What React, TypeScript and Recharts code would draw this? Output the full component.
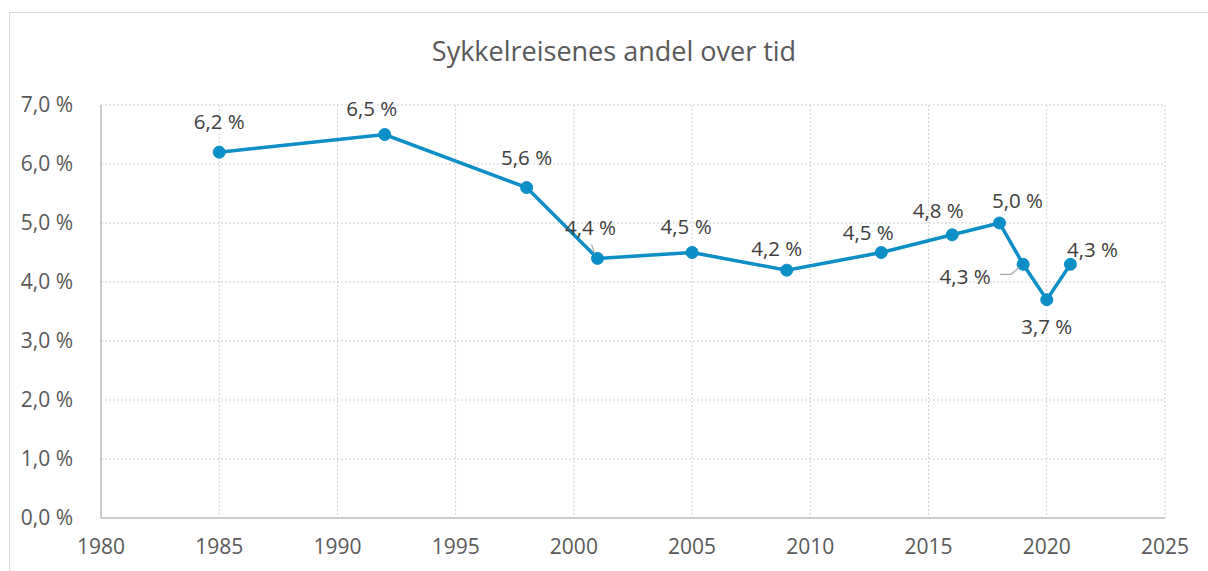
import { LineChart, Line, XAxis, YAxis, CartesianGrid } from 'recharts';

const years = [1985, 1992, 1998, 2001, 2005, 2009, 2013, 2016, 2018, 2019, 2020, 2021];
const shares = [6.2, 6.5, 5.6, 4.4, 4.5, 4.2, 4.5, 4.8, 5.0, 4.3, 3.7, 4.3];
const xTicks = [1980, 1985, 1990, 1995, 2000, 2005, 2010, 2015, 2020, 2025];
const yTicks = [0, 1, 2, 3, 4, 5, 6, 7];

const data = years.map((year, i) => ({ year, share: shares[i] }));

// label nudges (px from the point), as placed in the original
const labelNudge: [number, number][] = [
  [0, -31], [-13, -27], [0, -31], [-7, -31], [-6, -27], [-10, -22],
  [-13, -21], [-14, -25], [18, -23], [-58, 12], [0, 26], [22, -15],
];
const leaderTop = 3;
const leaderLeft = 9;

const font = '"Open Sans", sans-serif';
const fmt = (v: number) => v.toFixed(1).replace('.', ',') + ' %';

function PointLabel(props: any) {
  const { x, y, value, index } = props;
  const [dx, dy] = labelNudge[index];
  return (
    <g>
      {index === leaderTop && (
        <line x1={x - 6} y1={y - 14} x2={x - 3} y2={y - 5} stroke="#a6a6a6" strokeWidth={1.2} />
      )}
      {index === leaderLeft && (
        <polyline
          points={`${x - 23},${y + 10} ${x - 12},${y + 10} ${x - 4},${y + 3}`}
          fill="none"
          stroke="#a6a6a6"
          strokeWidth={1.2}
        />
      )}
      <text
        x={x + dx}
        y={y + dy}
        textAnchor="middle"
        dominantBaseline="central"
        fill="#404040"
        fontSize={20.5}
        fontFamily={font}
      >
        {fmt(value)}
      </text>
    </g>
  );
}

export default function App() {
  return (
    <div style={{ position: 'absolute', left: 0, top: 0, width: 1208, height: 571, background: '#fff', overflow: 'hidden' }}>
      <div style={{ position: 'absolute', left: 9, top: 12, width: 1220, height: 600, border: '1px solid #d9d9d9' }} />
      <div
        style={{
          position: 'absolute',
          left: 0,
          top: 32,
          width: 1228,
          textAlign: 'center',
          fontFamily: font,
          fontSize: 27,
          color: '#595959',
        }}
      >
        Sykkelreisenes andel over tid
      </div>
      <div style={{ position: 'absolute', left: 0, top: 0 }}>
        <LineChart width={1208} height={571} data={data} margin={{ top: 105, right: 43, bottom: 13, left: 11 }}>
          <CartesianGrid stroke="#d0d0d0" strokeDasharray="2 2" strokeWidth={1} />
          <XAxis
            dataKey="year"
            type="number"
            domain={[1980, 2025]}
            ticks={xTicks}
            interval={0}
            height={40}
            tickLine={false}
            tickMargin={15}
            axisLine={{ stroke: '#bfbfbf', strokeWidth: 1.5 }}
            tick={{ fill: '#595959', fontSize: 21, fontFamily: font }}
          />
          <YAxis
            domain={[0, 7]}
            ticks={yTicks}
            interval={0}
            width={90}
            tickLine={false}
            tickMargin={22}
            tickFormatter={fmt}
            axisLine={{ stroke: '#bfbfbf', strokeWidth: 1.5 }}
            tick={{ fill: '#595959', fontSize: 21, fontFamily: font }}
          />
          <Line
            dataKey="share"
            stroke="#0c8ec6"
            strokeWidth={3.5}
            dot={{ r: 6, fill: '#0c8ec6', stroke: '#0c8ec6', strokeWidth: 1 }}
            activeDot={false}
            isAnimationActive={false}
            label={<PointLabel />}
          />
        </LineChart>
      </div>
    </div>
  );
}
